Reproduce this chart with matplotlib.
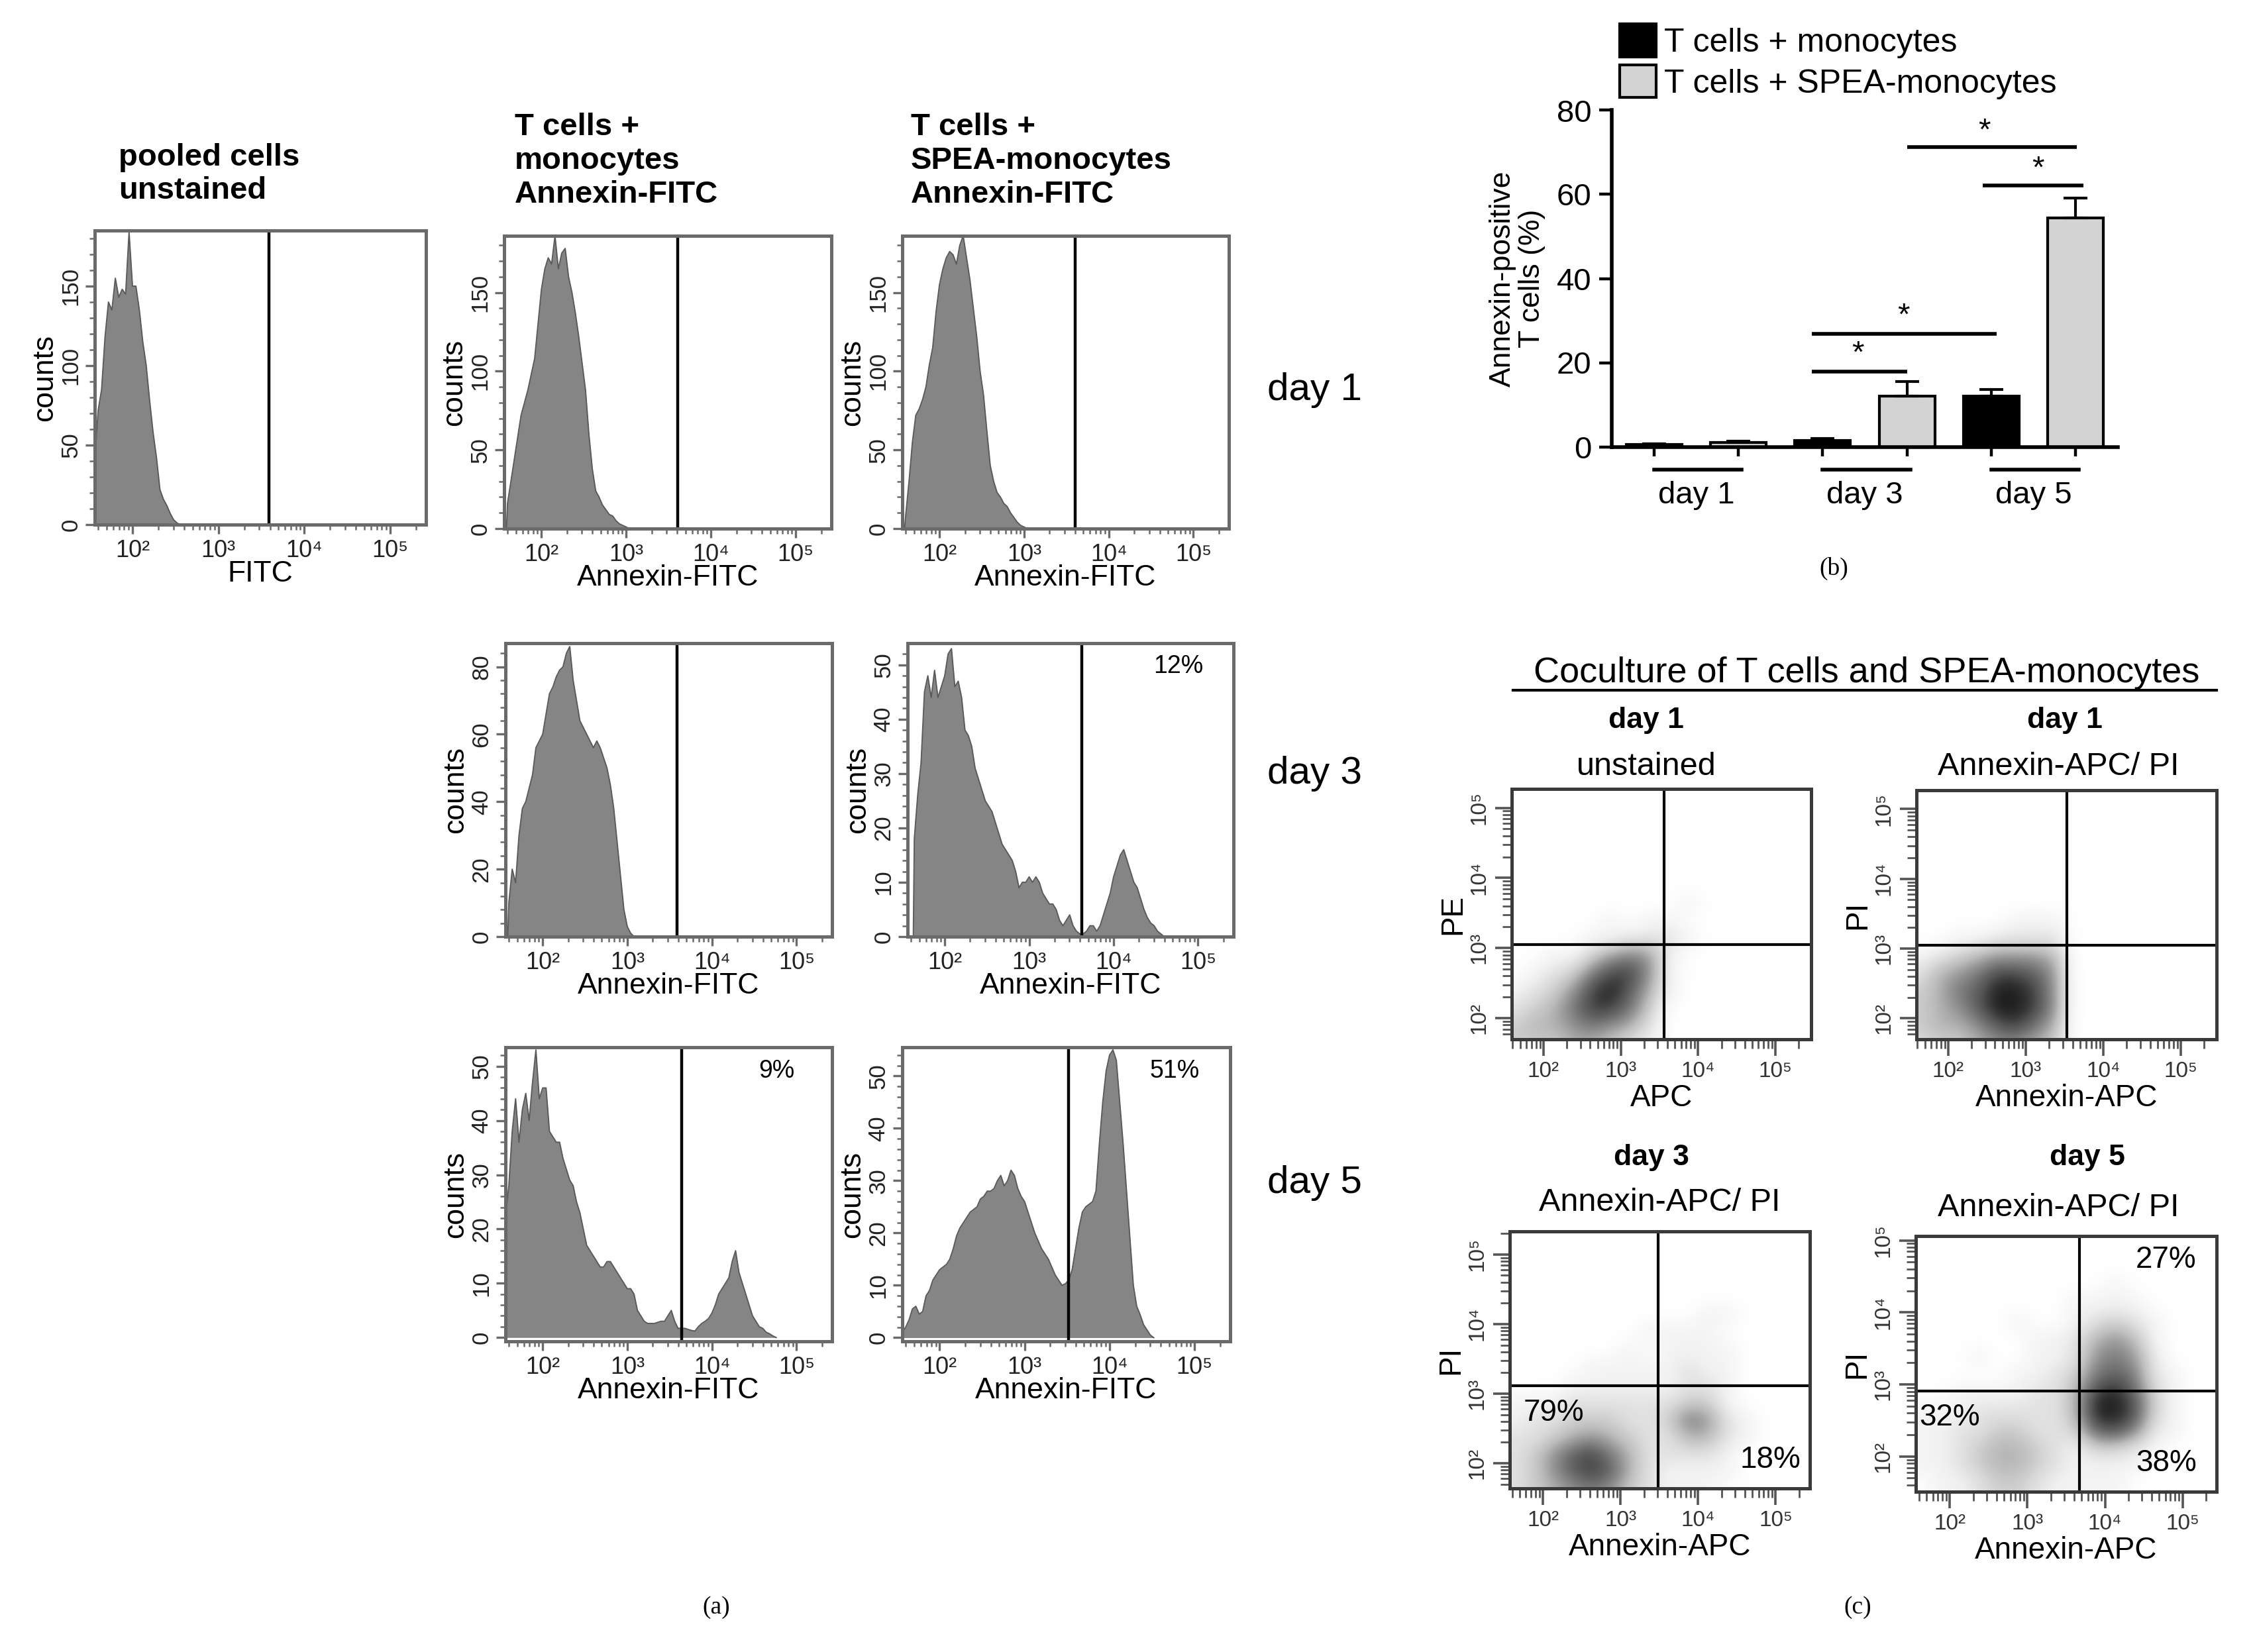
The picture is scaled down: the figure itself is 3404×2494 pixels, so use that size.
import numpy as np
import matplotlib
matplotlib.use("Agg")
import matplotlib.pyplot as plt
from matplotlib.ticker import FixedLocator, FuncFormatter
from matplotlib.patches import Patch
from matplotlib.lines import Line2D

W, H = 3405, 2494
DPI = 200
NARROW = ['Liberation Sans Narrow', 'Liberation Sans', 'DejaVu Sans']
SANS = ['Liberation Sans', 'DejaVu Sans']
SERIF = ['Liberation Serif', 'DejaVu Serif']
plt.rcParams['font.family'] = SANS

# ---- (a) histograms: counts per log10 bin (bin width 0.04 decade) ----
BIN = 0.04
pooled_start = 1.56
pooled_counts = [40, 72, 85, 118, 140, 135, 155, 143, 148, 145, 184, 150, 150,
                 135, 115, 100, 78, 58, 42, 22, 16, 12, 7, 3, 1]
mono1_start = 1.60
mono1_counts = [16, 30, 44, 58, 72, 80, 88, 98, 108, 130, 152, 165, 172, 168,
                186, 165, 175, 178, 160, 150, 137, 122, 105, 88, 60, 38, 24,
                20, 15, 12, 9, 8, 5, 3, 2, 1]
spea1_start = 1.60
spea1_counts = [8, 30, 55, 72, 76, 82, 90, 104, 115, 138, 155, 165, 172, 176,
                174, 168, 180, 186, 172, 158, 140, 122, 100, 85, 62, 40, 30,
                23, 20, 16, 14, 10, 7, 4, 2, 1]
mono3_start = 1.60
mono3_counts = [10, 20, 16, 30, 38, 40, 44, 48, 56, 58, 60, 66, 72, 74, 77, 79,
                80, 84, 86, 76, 70, 64, 62, 60, 58, 56, 58, 56, 53, 50, 45, 38,
                28, 18, 8, 3, 1]
spea3_start = 1.64
spea3_counts = [18, 26, 32, 45, 48, 44, 49, 44, 46, 48, 52, 53, 46, 47, 44, 38,
                37, 35, 31, 29, 27, 25, 24, 23, 21, 19, 17, 16, 15, 14, 12, 9,
                10, 10, 11, 10, 11, 10, 8, 7, 6, 6, 5, 3, 2, 3, 4, 2, 1, 0.5,
                0.5, 1, 2, 2, 1, 2, 4, 6, 8, 11, 13, 15, 16, 14, 12, 10, 9, 7,
                5, 3.5, 2.5, 2, 1, 0.5]
mono5_start = 1.56
mono5_counts = [22, 28, 38, 44, 36, 42, 45, 40, 47, 53, 44, 46, 46, 38, 37, 36,
                36, 33, 31, 29, 28, 25, 23, 20, 17, 16, 15, 14, 13, 13, 14, 14,
                13, 12, 11, 10, 9, 9, 8, 5, 4, 3, 2.6, 2.6, 2.6, 2.8, 3, 3, 4,
                5, 3, 1.7, 1.7, 1.7, 1.5, 1.3, 1.2, 2, 2.6, 3, 3.5, 4.5, 6, 8,
                9, 10, 11, 14, 16, 12, 10, 8, 6, 4, 3, 2, 1.7, 1, 0.7, 0.3]
spea5_start = 1.56
spea5_counts = [1, 2, 3.4, 5.5, 6, 4.5, 5, 8, 9, 11, 12, 13, 13.5, 14, 15, 17,
                19.5, 21, 22, 23, 24, 24.5, 25, 26.5, 27, 28, 28, 28.5, 30, 31,
                29, 30, 32, 31, 28.5, 27, 26, 24, 22, 20, 18.5, 17, 16, 15,
                13.5, 12, 11, 10, 10.3, 11, 13, 17, 21, 24, 25, 25.5, 26, 28,
                37, 45, 51, 54, 55, 53, 45, 37, 28, 19, 10, 6, 4.4, 2.5, 1.5,
                0.5]
hist_gates = [3.59, 3.61, 3.60, 3.59, 3.62, 3.64, 3.52]
hist_pcts = ['', '', '', '', '12%', '9%', '51%']

# ---- (b) bar chart ----
groups = ['day 1', 'day 3', 'day 5']
mono_vals = [0.5, 1.5, 12.0]
mono_err = [0.2, 0.4, 1.7]
spea_vals = [1.0, 12.0, 54.4]
spea_err = [0.3, 3.5, 4.8]
legend_labels = ['T cells + monocytes', 'T cells + SPEA-monocytes']

# ---- (c) dot plots: relative dot density, cells of 0.25 decade ----
# columns x = 1.625 ... 5.375, rows y = 5.125 (top) ... 1.625 (bottom)
dens_unstained = ['0000000000000000', '0000000000000000', '0000000000000000',
                  '0000000000000000', '0000000000000000', '0000000000000000',
                  '0000000001000000', '0000010110000000', '0000112221000000',
                  '0011356510000000', '0123688510000000', '1235897410000000',
                  '2346886300000000', '3445654200000000', '3334432100000000']
dens_day1 = ['0000000000000000', '0000000000000000', '0000000000000000',
             '0000000000000000', '0000000000000000', '0000000000000000',
             '0000000000000000', '0000011100000000', '0011222200000000',
             '1234555400000000', '2456887500000000', '3467998500000000',
             '3457998500000000', '3445786400000000', '2334554300000000']
dens_day3 = ['0000000000000000', '0000000000000000', '0000000000000000',
             '0000000000000000', '0000000000110000', '0000000111100000',
             '0000001011110000', '0000111112110000', '0001111112210000',
             '1112222223310000', '1223332236521000', '2234543224421000',
             '2357864222210000', '2357874211110000', '2345653211100000']
dens_day5 = ['0000000000000000', '0000000000000000', '0000000000000000',
             '0000000000100000', '0000000011110000', '0000010012321000',
             '0000001124541000', '0001001125652000', '0000011236762100',
             '0011112248973100', '1112222249983100', '1122332237862100',
             '1123443213321000', '1123443211110000', '0112332111100000']
dot_pcts_day3 = ['79%', '18%']
dot_pcts_day5 = ['27%', '32%', '38%']

FILL = '#858585'
EDGE = '#5a5a5a'
FRAME = '#6a6a6a'
SUP = {2: '10²', 3: '10³', 4: '10⁴', 5: '10⁵'}

fig = plt.figure(figsize=(W / DPI, H / DPI), dpi=DPI)


def fbox(l, t, r, b):
    return [l / W, 1 - b / H, (r - l) / W, (b - t) / H]


def ftext(x, y, s, **kw):
    kw.setdefault('ha', 'center')
    kw.setdefault('va', 'center')
    fig.text(x / W, 1 - y / H, s, **kw)


def log_axis(axis, lo, hi):
    axis.set_major_locator(FixedLocator([2, 3, 4, 5]))
    axis.set_major_formatter(FuncFormatter(lambda v, p: SUP.get(int(round(v)), '')))
    minors = [d + np.log10(k) for d in range(1, 6) for k in range(2, 10)]
    axis.set_minor_locator(FixedLocator([m for m in minors if lo <= m <= hi]))


def histogram(box, start, counts, gate, ylim, yticks, xlabel, pct=''):
    ax = fig.add_axes(fbox(*box))
    x = start + BIN * np.arange(len(counts))
    xs = np.concatenate([[x[0] - 0.012], x, [x[-1] + BIN]])
    ys = np.concatenate([[0], counts, [0]])
    ax.fill_between(xs, ys, color=FILL, lw=0)
    ax.plot(xs, ys, color=EDGE, lw=0.7)
    ax.axvline(gate, color='black', lw=1.6)
    ax.set_xlim(1.56, 5.42)
    ax.set_ylim(*ylim)
    log_axis(ax.xaxis, 1.56, 5.42)
    step = yticks[1] - yticks[0]
    ax.set_yticks(yticks)
    ax.set_yticks(np.arange(0, ylim[1], step / 5), minor=True)
    for s in ax.spines.values():
        s.set_color(FRAME)
        s.set_linewidth(1.8)
    ax.tick_params(which='both', direction='out', color=FRAME, labelcolor='#222222', pad=3)
    ax.tick_params(axis='x', labelsize=13)
    ax.tick_params(axis='y', labelsize=12.5, pad=2)
    ax.tick_params(which='major', length=5, width=1.2)
    ax.tick_params(which='minor', length=3, width=0.9)
    for lab in ax.get_yticklabels():
        lab.set_rotation(90)
        lab.set_va('center')
    ax.set_ylabel('counts', fontsize=16, labelpad=1)
    ax.set_xlabel(xlabel, fontsize=16, labelpad=-1, family=NARROW)
    if pct:
        ax.text(0.83, 0.92, pct, transform=ax.transAxes, ha='center', va='center',
                fontsize=13.5, family=NARROW)
    return ax


# ----- panel (a) -----
day1_ylim = (0, 186)
histogram((143, 348, 643, 792), pooled_start, pooled_counts, hist_gates[0],
          (0, 185), [0, 50, 100, 150], 'FITC')
histogram((761, 356, 1255, 798), mono1_start, mono1_counts, hist_gates[1],
          day1_ylim, [0, 50, 100, 150], 'Annexin-FITC')
histogram((1362, 356, 1855, 798), spea1_start, spea1_counts, hist_gates[2],
          day1_ylim, [0, 50, 100, 150], 'Annexin-FITC')
histogram((763, 971, 1256, 1414), mono3_start, mono3_counts, hist_gates[3],
          (0, 87), [0, 20, 40, 60, 80], 'Annexin-FITC')
histogram((1370, 971, 1862, 1414), spea3_start, spea3_counts, hist_gates[4],
          (0, 54), [0, 10, 20, 30, 40, 50], 'Annexin-FITC', hist_pcts[4])
histogram((763, 1581, 1256, 2025), mono5_start, mono5_counts, hist_gates[5],
          (-0.7, 53.5), [0, 10, 20, 30, 40, 50], 'Annexin-FITC', hist_pcts[5])
histogram((1362, 1581, 1857, 2025), spea5_start, spea5_counts, hist_gates[6],
          (-0.7, 55.5), [0, 10, 20, 30, 40, 50], 'Annexin-FITC', hist_pcts[6])

head = dict(ha='left', fontsize=17, fontweight='bold', family=NARROW, linespacing=1.2)
ftext(179, 263, 'pooled cells\nunstained', **head)
ftext(777, 243, 'T cells +\nmonocytes\nAnnexin-FITC', **head)
ftext(1375, 243, 'T cells +\nSPEA-monocytes\nAnnexin-FITC', **head)
for yy, lab in zip([589, 1168, 1786], ['day 1', 'day 3', 'day 5']):
    ftext(1985, yy, lab, fontsize=21)
ftext(1081, 2427, '(a)', fontsize=13.5, family=SERIF)

# ----- panel (b) -----
axb = fig.add_axes(fbox(2433, 166.5, 3197, 674.5))
mono_pos = np.arange(3) * 2
spea_pos = mono_pos + 1
axb.bar(mono_pos, mono_vals, width=0.66, color='black', edgecolor='black', lw=1.5)
axb.bar(spea_pos, spea_vals, width=0.66, color='#d3d3d3', edgecolor='black', lw=1.5)
axb.errorbar(mono_pos, mono_vals, yerr=[np.zeros(3), mono_err], fmt='none',
             ecolor='black', elinewidth=1.5, capsize=6.5, capthick=1.5)
axb.errorbar(spea_pos, spea_vals, yerr=[np.zeros(3), spea_err], fmt='none',
             ecolor='black', elinewidth=1.5, capsize=6.5, capthick=1.5)
axb.set_xlim(-0.5, 5.5)
axb.set_ylim(0, 80)
axb.set_yticks([0, 20, 40, 60, 80])
axb.set_xticks(np.arange(6))
axb.set_xticklabels([])
for side in ['top', 'right']:
    axb.spines[side].set_visible(False)
for side in ['left', 'bottom']:
    axb.spines[side].set_linewidth(2)
axb.tick_params(axis='y', direction='out', length=7, width=1.6, labelsize=17, pad=4)
axb.tick_params(axis='x', direction='out', length=5, width=1.6)
for lab in axb.get_yticklabels():
    lab.set_family(NARROW)
axb.set_ylabel('Annexin-positive\nT cells (%)', fontsize=16, labelpad=6, linespacing=1.1)

# significance brackets
sig = [(1.875, 3.0, 17.9, 2.42, 22.0),
       (1.875, 4.06, 26.9, 2.96, 31.0),
       (3.9, 5.09, 62.2, 4.55, 66.0),
       (3.0, 5.01, 71.2, 3.92, 75.0)]
for x0, x1, yl, xs_, ys_ in sig:
    axb.plot([x0, x1], [yl, yl], color='black', lw=2, solid_capstyle='butt')
    axb.text(xs_, ys_, '*', ha='center', va='center', fontsize=17)
for i, g in enumerate(groups):
    axb.plot([2 * i, 2 * i + 1.04], [-5.4, -5.4], color='black', lw=2, clip_on=False)
    axb.text(2 * i + 0.5, -11.5, g, ha='center', va='center', fontsize=17, family=NARROW)

handles = [Patch(facecolor='black', edgecolor='black', lw=1.5),
           Patch(facecolor='#d3d3d3', edgecolor='black', lw=1.5)]
fig.legend(handles, legend_labels, loc='upper left',
           bbox_to_anchor=(2445 / W, 1 - 36 / H), frameon=False,
           prop={'family': NARROW, 'size': 18}, handlelength=1.1,
           handleheight=1.15, handletextpad=0.25, labelspacing=0.2, borderpad=0,
           borderaxespad=0)
ftext(2768, 858, '(b)', fontsize=13.5, family=SERIF)


# ----- panel (c) -----
def dotplot(box, rows, xlim, ylim, xgate, ygate, xlabel, ylabel):
    ax = fig.add_axes(fbox(*box))
    grid = np.array([[int(c) for c in r] for r in rows], float)
    ax.imshow(grid, extent=[1.5, 5.5, 1.5, 5.25], origin='upper', cmap='Greys',
              vmin=0, vmax=10, interpolation='bicubic', aspect='auto')
    ax.axvline(xgate, color='black', lw=1.5)
    ax.axhline(ygate, color='black', lw=1.5)
    ax.set_xlim(*xlim)
    ax.set_ylim(*ylim)
    log_axis(ax.xaxis, *xlim)
    log_axis(ax.yaxis, *ylim)
    for s in ax.spines.values():
        s.set_color('#3a3a3a')
        s.set_linewidth(1.8)
    ax.tick_params(which='both', direction='out', color='#555555', labelsize=12,
                   labelcolor='#333333', pad=3)
    ax.tick_params(which='major', length=9, width=1.3)
    ax.tick_params(which='minor', length=5, width=1.0)
    for lab in ax.get_yticklabels():
        lab.set_rotation(90)
        lab.set_va('center')
    ax.set_xlabel(xlabel, fontsize=16.5, labelpad=1, family=NARROW)
    ax.set_ylabel(ylabel, fontsize=16.5, labelpad=1)
    return ax


dotplot((2282, 1191, 2734, 1569), dens_unstained, (1.59, 5.46), (1.70, 5.27),
        3.56, 3.05, 'APC', 'PE')
dotplot((2893, 1193, 3346, 1569), dens_day1, (1.59, 5.46), (1.70, 5.27),
        3.53, 3.05, 'Annexin-APC', 'PI')
dotplot((2279, 1859, 2732, 2247), dens_day3, (1.57, 5.44), (1.64, 5.33),
        3.48, 3.11, 'Annexin-APC', 'PI')
dotplot((2892, 1866, 3346, 2252), dens_day5, (1.56, 5.44), (1.51, 5.06),
        3.67, 2.91, 'Annexin-APC', 'PI')

ftext(2818, 1016, 'Coculture of T cells and SPEA-monocytes', fontsize=19.5, family=NARROW)
fig.add_artist(Line2D([2284 / W, 3346 / W], [1 - 1042 / H, 1 - 1042 / H],
                      color='black', lw=1.5))
bold = dict(fontsize=16, fontweight='bold', family=NARROW)
ftext(2485, 1087, 'day 1', **bold)
ftext(3117, 1087, 'day 1', **bold)
ftext(2493, 1748, 'day 3', **bold)
ftext(3151, 1748, 'day 5', **bold)
sub = dict(fontsize=17.5, family=NARROW)
ftext(2485, 1157, 'unstained', **sub)
ftext(3107, 1157, 'Annexin-APC/ PI', **sub)
ftext(2505, 1816, 'Annexin-APC/ PI', **sub)
ftext(3107, 1824, 'Annexin-APC/ PI', **sub)
pct = dict(fontsize=16.5, family=NARROW)
ftext(2345, 2133, dot_pcts_day3[0], **pct)
ftext(2672, 2204, dot_pcts_day3[1], **pct)
ftext(3270, 1902, dot_pcts_day5[0], **pct)
ftext(2943, 2140, dot_pcts_day5[1], **pct)
ftext(3270, 2209, dot_pcts_day5[2], **pct)
ftext(2804, 2427, '(c)', fontsize=13.5, family=SERIF)

fig.savefig('out.png', dpi=DPI)
